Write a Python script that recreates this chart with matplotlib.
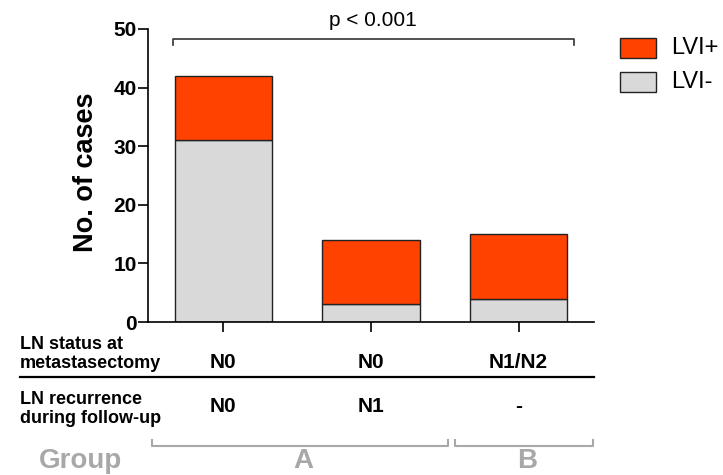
import matplotlib
matplotlib.use("Agg")
import matplotlib.pyplot as plt
from matplotlib.lines import Line2D
from matplotlib.patches import Rectangle

plt.rcParams['font.family'] = ['Liberation Sans', 'DejaVu Sans']

categories = ["N0", "N0", "N1/N2"]
recurrence = ["N0", "N1", "-"]
lvi_neg = [31, 3, 4]
lvi_pos = [11, 11, 11]
yticks = [0, 10, 20, 30, 40, 50]

W, H = 723, 475
fig = plt.figure(figsize=(W / 100, H / 100), dpi=100)
ax = fig.add_axes([148 / W, 1 - 322 / H, (594 - 148) / W, (322 - 29) / H])

x = list(range(len(categories)))
red = '#FF4200'
grey = '#D9D9D9'
edge = '#222222'
ax.bar(x, lvi_neg, width=0.66, color=grey, edgecolor=edge, linewidth=1.0, label='LVI-')
ax.bar(x, lvi_pos, width=0.66, bottom=lvi_neg, color=red, edgecolor=edge, linewidth=1.0, label='LVI+')

ax.set_xlim(-0.51, 2.51)
ax.set_ylim(0, 50)
ax.set_yticks(yticks)
ax.set_yticklabels([str(v) for v in yticks], fontsize=15, fontweight='bold')
ax.set_xticks(x)
ax.set_xticklabels([])
ax.tick_params(axis='x', length=7, width=1.2)
ax.tick_params(axis='y', length=7, width=1.2, pad=1)
for s in ['top', 'right']:
    ax.spines[s].set_visible(False)
for s in ['left', 'bottom']:
    ax.spines[s].set_linewidth(1.2)


def fx(px):
    return px / W


def fy(py):
    return 1 - py / H


fig.text(fx(86), fy(172), 'No. of cases', rotation=90, ha='center', va='center', fontsize=19.5, fontweight='bold')

# significance bracket
bx0, bx1, by, bt = 173, 574, 39, 45
fig.add_artist(Line2D([fx(bx0), fx(bx0), fx(bx1), fx(bx1)], [fy(bt), fy(by), fy(by), fy(bt)], color='#333333', lw=1.2))
fig.text(fx(373), fy(21), 'p < 0.001', ha='center', va='center', fontsize=15)

# legend
for (ytop, col, lab) in [(38, red, 'LVI+'), (72, grey, 'LVI-')]:
    fig.add_artist(Rectangle((fx(620), fy(ytop + 20)), 36 / W, 20 / H, transform=fig.transFigure,
                             facecolor=col, edgecolor=edge, lw=1.0))
    fig.text(fx(671), fy(ytop + 10), lab, ha='left', va='center', fontsize=17)

# table under the axis
fig.text(fx(20), fy(354), 'LN status at\nmetastasectomy', ha='left', va='center', fontsize=13, fontweight='bold', linespacing=1.2)
fig.text(fx(20), fy(409), 'LN recurrence\nduring follow-up', ha='left', va='center', fontsize=13, fontweight='bold', linespacing=1.2)
for xi, c, r in zip(x, categories, recurrence):
    xf = ax.transData.transform((xi, 0))[0] / W
    fig.text(xf, fy(362), c, ha='center', va='center', fontsize=15, fontweight='bold')
    fig.text(xf, fy(407), r, ha='center', va='center', fontsize=15, fontweight='bold')
fig.add_artist(Line2D([fx(20), fx(594)], [fy(377), fy(377)], color='black', lw=1.6))

# group brackets
gcol = '#A8A8A8'
for gx0, gx1, lab in [(152, 448, 'A'), (455, 593, 'B')]:
    fig.add_artist(Line2D([fx(gx0), fx(gx0), fx(gx1), fx(gx1)], [fy(440), fy(446), fy(446), fy(440)], color=gcol, lw=1.5))
    fig.text(fx((gx0 + gx1) / 2 + 3), fy(461), lab, ha='center', va='center', fontsize=20, fontweight='bold', color=gcol)
fig.text(fx(39), fy(461), 'Group', ha='left', va='center', fontsize=20, fontweight='bold', color=gcol)

fig.savefig('out.png', dpi=100)
